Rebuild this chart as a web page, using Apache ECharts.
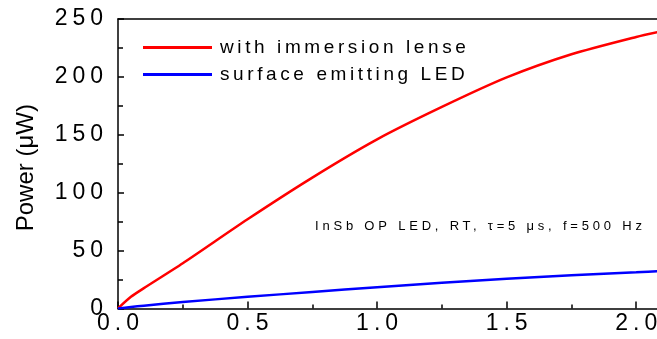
<!DOCTYPE html>
<html>
<head>
<meta charset="utf-8">
<script src="https://cdn.jsdelivr.net/npm/echarts@6/dist/echarts.min.js"></script>
<style>
html,body{margin:0;padding:0;background:#fff;overflow:hidden;}
#chart{width:657px;height:339px;}
</style>
</head>
<body>
<div id="chart"></div>
<script>
// ---- data ----
const currentValues = [0, 0.05, 0.1, 0.25, 0.5, 0.75, 1.0, 1.25, 1.5, 1.75, 2.0, 2.1];
const lensPower     = [0, 10, 17.5, 39, 77, 113, 146, 174, 199.5, 219.5, 234.5, 239.5];
const surfacePower  = [0, 1.2, 2.3, 5.5, 10, 14.2, 18.3, 22.2, 25.6, 28.6, 31.2, 32.3];
const seriesNames   = ['with immersion lense', 'surface emitting LED'];
const yAxisTitle    = 'Power (\u03bcW)';
const annotation    = 'InSb OP LED, RT, \u03c4=5 \u03bcs, f=500 Hz';

// letter spacing of the reference texts (by font size)
const spacingBySize = {23: 5, 19: 3.6, 13: 3.8};
(function(){
  const proto = CanvasRenderingContext2D.prototype;
  const orig = proto.fillText;
  proto.fillText = function(text, x, y, maxW){
    const m = /(\d+(?:\.\d+)?)px/.exec(this.font);
    const size = m ? Math.round(parseFloat(m[1])) : 0;
    const ls = spacingBySize[size] || 0;
    if ('letterSpacing' in this) {
      this.letterSpacing = ls + 'px';
      if (this.textAlign === 'center') x += ls / 2;
      else if (this.textAlign === 'right' || this.textAlign === 'end') x += ls;
    }
    return maxW === undefined ? orig.call(this, text, x, y) : orig.call(this, text, x, y, maxW);
  };
})();

const FONT = '"Liberation Sans", Arial, sans-serif';
const zip = (xs, ys) => xs.map((x, i) => [x, ys[i]]);

const chart = echarts.init(document.getElementById('chart'), null, {renderer: 'canvas'});
chart.setOption({
  animation: false,
  backgroundColor: '#fff',
  textStyle: {fontFamily: FONT},
  grid: {left: 118, top: 19, width: 583, height: 289.4, containLabel: false, outerBoundsMode: 'none'},
  title: {
    text: annotation, left: 315, top: 220, padding: 0,
    textStyle: {fontSize: 13, fontWeight: 'normal', color: '#000', fontFamily: FONT}
  },
  legend: {
    left: 143, top: 38, orient: 'vertical', padding: 0,
    itemWidth: 69, itemHeight: 3, itemGap: 8, icon: 'rect',
    textStyle: {fontSize: 19, color: '#000', fontFamily: FONT, padding: [0, 0, 0, 3]}
  },
  xAxis: [{
    type: 'value', min: 0, max: 2.25, interval: 0.5,
    axisLine: {show: true, onZero: false, lineStyle: {color: '#000', width: 1.5}},
    axisTick: {show: true, inside: true, length: 7, lineStyle: {color: '#000', width: 1.5}},
    minorTick: {show: true, splitNumber: 2, length: 4, lineStyle: {color: '#000', width: 1.5}},
    splitLine: {show: false},
    axisLabel: {fontSize: 23, color: '#000', margin: 4, showMaxLabel: false, fontFamily: FONT,
      formatter: v => v.toFixed(1)}
  }, {
    type: 'value', position: 'top', min: 0, max: 2.25,
    axisLine: {show: true, onZero: false, lineStyle: {color: '#000', width: 1.5}},
    axisTick: {show: false}, axisLabel: {show: false}, splitLine: {show: false}
  }],
  yAxis: {
    type: 'value', min: 0, max: 250, interval: 50,
    name: yAxisTitle, nameLocation: 'middle', nameGap: 80,
    nameTextStyle: {fontSize: 24, color: '#000', fontFamily: FONT, padding: [0, 8, 0, 0]},
    axisLine: {show: true, onZero: false, lineStyle: {color: '#000', width: 1.5}},
    axisTick: {show: true, inside: true, length: 6, lineStyle: {color: '#000', width: 1.5}},
    minorTick: {show: true, splitNumber: 2, length: 5, lineStyle: {color: '#000', width: 1.5}},
    splitLine: {show: false},
    axisLabel: {fontSize: 23, color: '#000', margin: 15, fontFamily: FONT}
  },
  series: [{
    name: seriesNames[0], type: 'line', data: zip(currentValues, lensPower),
    smooth: 0.25, symbol: 'none', color: '#ff0000',
    lineStyle: {color: '#ff0000', width: 2.5}
  }, {
    name: seriesNames[1], type: 'line', data: zip(currentValues, surfacePower),
    smooth: 0.25, symbol: 'none', color: '#0000ff',
    lineStyle: {color: '#0000ff', width: 2.5}
  }]
});
</script>
</body>
</html>
